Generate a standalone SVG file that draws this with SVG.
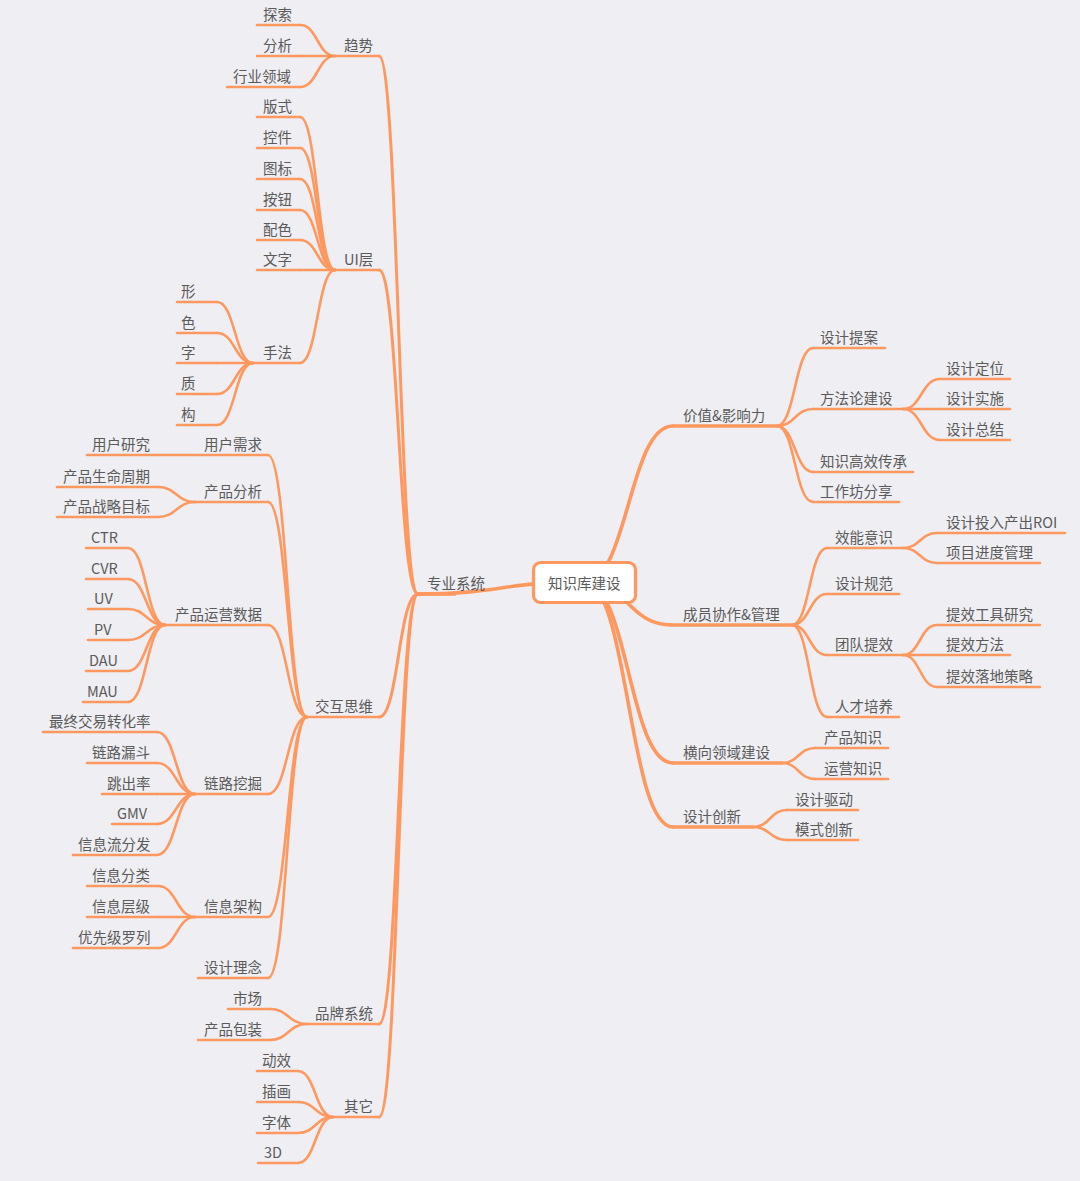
<svg xmlns="http://www.w3.org/2000/svg" width="1080" height="1181" viewBox="0 0 1080 1181">
<style>
text{font-family:"Noto Sans CJK SC","Liberation Sans",sans-serif;font-size:14.5px;fill:#5a5a5a;transform:translateY(1px)}
.c,.u,.u1,.c1,.c2{fill:none;stroke:#ff985f;stroke-linecap:round}
.c1{stroke-width:3.6}
.u1{stroke-width:3.3}
.c2{stroke-width:3}
.c,.u{stroke-width:2.6}
.box{fill:#fff;stroke:#ff985f;stroke-width:3.2}
</style>
<rect width="1080" height="1181" fill="#efeef3"/>
<g id="connectors">
<path class="c1" d="M584 582C501 582 501 594 418 594"/>
<path class="c1" d="M584 582C628.5 582 628.5 426 673 426"/>
<path class="c1" d="M584 582C628 582 628 625 672 625"/>
<path class="c1" d="M584 582C628.5 582 628.5 763 673 763"/>
<path class="c1" d="M584 582C628.5 582 628.5 827 673 827"/>
<path class="c2" d="M418 594C398.5 594 398.5 56 379 56"/>
<path class="c2" d="M418 594C398.5 594 398.5 270 379 270"/>
<path class="c2" d="M418 594C398.5 594 398.5 717 379 717"/>
<path class="c2" d="M418 594C398.5 594 398.5 1024 379 1024"/>
<path class="c2" d="M418 594C398.5 594 398.5 1117 379 1117"/>
<path class="c" d="M335 56C317.5 56 317.5 25 300 25"/>
<path class="c" d="M335 56L300 56"/>
<path class="c" d="M335 56C317.5 56 317.5 87 300 87"/>
<path class="c" d="M335 270C317.5 270 317.5 117 300 117"/>
<path class="c" d="M335 270C317.5 270 317.5 148 300 148"/>
<path class="c" d="M335 270C317.5 270 317.5 179 300 179"/>
<path class="c" d="M335 270C317.5 270 317.5 210 300 210"/>
<path class="c" d="M335 270C317.5 270 317.5 240 300 240"/>
<path class="c" d="M335 270L300 270"/>
<path class="c" d="M335 270C317.5 270 317.5 363 300 363"/>
<path class="c" d="M253 363C235 363 235 302 217 302"/>
<path class="c" d="M253 363C235 363 235 333 217 333"/>
<path class="c" d="M253 363L217 363"/>
<path class="c" d="M253 363C235 363 235 394 217 394"/>
<path class="c" d="M253 363C235 363 235 425 217 425"/>
<path class="c" d="M307 717C287.5 717 287.5 455 268 455"/>
<path class="c" d="M307 717C287.5 717 287.5 502 268 502"/>
<path class="c" d="M307 717C287.5 717 287.5 625 268 625"/>
<path class="c" d="M307 717C287.5 717 287.5 794 268 794"/>
<path class="c" d="M307 717C287.5 717 287.5 917 268 917"/>
<path class="c" d="M307 717C287.5 717 287.5 978 268 978"/>
<path class="c" d="M200 455L157 455"/>
<path class="c" d="M195 502C176.5 502 176.5 487 158 487"/>
<path class="c" d="M195 502C176.5 502 176.5 517 158 517"/>
<path class="c" d="M165 625C146.5 625 146.5 548 128 548"/>
<path class="c" d="M165 625C146.5 625 146.5 579 128 579"/>
<path class="c" d="M165 625C146.5 625 146.5 609 128 609"/>
<path class="c" d="M165 625C146.5 625 146.5 640 128 640"/>
<path class="c" d="M165 625C146.5 625 146.5 671 128 671"/>
<path class="c" d="M165 625C146.5 625 146.5 702 128 702"/>
<path class="c" d="M195 794C176 794 176 732 157 732"/>
<path class="c" d="M195 794C176 794 176 763 157 763"/>
<path class="c" d="M195 794L157 794"/>
<path class="c" d="M195 794C176 794 176 824 157 824"/>
<path class="c" d="M195 794C176 794 176 855 157 855"/>
<path class="c" d="M195 917C176.5 917 176.5 886 158 886"/>
<path class="c" d="M195 917L158 917"/>
<path class="c" d="M195 917C176.5 917 176.5 948 158 948"/>
<path class="c" d="M307 1024C288.5 1024 288.5 1009 270 1009"/>
<path class="c" d="M307 1024C288.5 1024 288.5 1040 270 1040"/>
<path class="c" d="M333 1117C315.5 1117 315.5 1071 298 1071"/>
<path class="c" d="M333 1117C315.5 1117 315.5 1102 298 1102"/>
<path class="c" d="M333 1117C315.5 1117 315.5 1133 298 1133"/>
<path class="c" d="M333 1117C315.5 1117 315.5 1163 298 1163"/>
<path class="c" d="M777 426C795 426 795 348 813 348"/>
<path class="c" d="M777 426C795 426 795 409 813 409"/>
<path class="c" d="M777 426C795 426 795 472 813 472"/>
<path class="c" d="M777 426C795 426 795 502 813 502"/>
<path class="c" d="M903 409C921.5 409 921.5 379 940 379"/>
<path class="c" d="M903 409L940 409"/>
<path class="c" d="M903 409C921.5 409 921.5 440 940 440"/>
<path class="c" d="M792 625C809.5 625 809.5 548 827 548"/>
<path class="c" d="M792 625C809.5 625 809.5 594 827 594"/>
<path class="c" d="M792 625C809.5 625 809.5 655 827 655"/>
<path class="c" d="M792 625C809.5 625 809.5 717 827 717"/>
<path class="c" d="M903 548C920 548 920 533 937 533"/>
<path class="c" d="M903 548C920 548 920 563 937 563"/>
<path class="c" d="M903 655C920 655 920 625 937 625"/>
<path class="c" d="M903 655L937 655"/>
<path class="c" d="M903 655C920 655 920 687 937 687"/>
<path class="c" d="M782 763C798.5 763 798.5 748 815 748"/>
<path class="c" d="M782 763C798.5 763 798.5 779 815 779"/>
<path class="c" d="M753 827C770 827 770 810 787 810"/>
<path class="c" d="M753 827C770 827 770 840 787 840"/>
</g>
<g id="center"><rect class="box" x="533.5" y="562.5" width="102" height="40" rx="7"/><text x="548" y="588">知识库建设</text></g>
<g id="n-zhuanye"><path class="u1" d="M418 594H455"/><text x="427" y="588">专业系统</text></g>
<g id="n-qushi"><path class="u" d="M335 56H379"/><text x="344" y="50">趋势</text></g>
<g id="n-tansuo"><path class="u" d="M257 25H300"/><text x="263" y="19">探索</text></g>
<g id="n-fenxi"><path class="u" d="M257 56H300"/><text x="263" y="50">分析</text></g>
<g id="n-hangye"><path class="u" d="M227 87H300"/><text x="233" y="81">行业领域</text></g>
<g id="n-ui"><path class="u" d="M335 270H379"/><text x="344" y="264">UI层</text></g>
<g id="n-banshi"><path class="u" d="M257 117H300"/><text x="263" y="111">版式</text></g>
<g id="n-kongjian"><path class="u" d="M257 148H300"/><text x="263" y="142">控件</text></g>
<g id="n-tubiao"><path class="u" d="M257 179H300"/><text x="263" y="173">图标</text></g>
<g id="n-anniu"><path class="u" d="M257 210H300"/><text x="263" y="204">按钮</text></g>
<g id="n-peise"><path class="u" d="M257 240H300"/><text x="263" y="234">配色</text></g>
<g id="n-wenzi"><path class="u" d="M257 270H300"/><text x="263" y="264">文字</text></g>
<g id="n-shoufa"><path class="u" d="M253 363H300"/><text x="263" y="357">手法</text></g>
<g id="n-xing"><path class="u" d="M177 302H217"/><text x="181" y="296">形</text></g>
<g id="n-se"><path class="u" d="M177 333H217"/><text x="181" y="327">色</text></g>
<g id="n-zi"><path class="u" d="M177 363H217"/><text x="181" y="357">字</text></g>
<g id="n-zhi"><path class="u" d="M177 394H217"/><text x="181" y="388">质</text></g>
<g id="n-gou"><path class="u" d="M177 425H217"/><text x="181" y="419">构</text></g>
<g id="n-jiaohu"><path class="u" d="M307 717H379"/><text x="315" y="711">交互思维</text></g>
<g id="n-yonghuxuqiu"><path class="u" d="M200 455H268"/><text x="204" y="449">用户需求</text></g>
<g id="n-yonghuyanjiu"><path class="u" d="M87 455H157"/><text x="92" y="449">用户研究</text></g>
<g id="n-chanpinfenxi"><path class="u" d="M195 502H268"/><text x="204" y="496">产品分析</text></g>
<g id="n-shengming"><path class="u" d="M57 487H158"/><text x="63" y="481">产品生命周期</text></g>
<g id="n-zhanlue"><path class="u" d="M57 517H158"/><text x="63" y="511">产品战略目标</text></g>
<g id="n-yunying"><path class="u" d="M165 625H268"/><text x="175" y="619">产品运营数据</text></g>
<g id="n-ctr"><path class="u" d="M86 548H128"/><text x="91" y="542">CTR</text></g>
<g id="n-cvr"><path class="u" d="M86 579H128"/><text x="91" y="573">CVR</text></g>
<g id="n-uv"><path class="u" d="M88 609H128"/><text x="94" y="603">UV</text></g>
<g id="n-pv"><path class="u" d="M88 640H128"/><text x="94" y="634">PV</text></g>
<g id="n-dau"><path class="u" d="M86 671H128"/><text x="89" y="665">DAU</text></g>
<g id="n-mau"><path class="u" d="M83 702H128"/><text x="87" y="696">MAU</text></g>
<g id="n-lianlu"><path class="u" d="M195 794H268"/><text x="204" y="788">链路挖掘</text></g>
<g id="n-zuizhong"><path class="u" d="M43 732H157"/><text x="49" y="726">最终交易转化率</text></g>
<g id="n-loudou"><path class="u" d="M87 763H157"/><text x="92" y="757">链路漏斗</text></g>
<g id="n-tiaochu"><path class="u" d="M102 794H157"/><text x="107" y="788">跳出率</text></g>
<g id="n-gmv"><path class="u" d="M112 824H157"/><text x="117" y="818">GMV</text></g>
<g id="n-xinxiliu"><path class="u" d="M73 855H157"/><text x="78" y="849">信息流分发</text></g>
<g id="n-jiagou"><path class="u" d="M195 917H268"/><text x="204" y="911">信息架构</text></g>
<g id="n-fenlei"><path class="u" d="M87 886H158"/><text x="92" y="880">信息分类</text></g>
<g id="n-cengji"><path class="u" d="M87 917H158"/><text x="92" y="911">信息层级</text></g>
<g id="n-youxian"><path class="u" d="M73 948H158"/><text x="78" y="942">优先级罗列</text></g>
<g id="n-linian"><path class="u" d="M198 978H268"/><text x="204" y="972">设计理念</text></g>
<g id="n-pinpai"><path class="u" d="M307 1024H379"/><text x="315" y="1018">品牌系统</text></g>
<g id="n-shichang"><path class="u" d="M228 1009H270"/><text x="233" y="1003">市场</text></g>
<g id="n-baozhuang"><path class="u" d="M198 1040H270"/><text x="204" y="1034">产品包装</text></g>
<g id="n-qita"><path class="u" d="M333 1117H379"/><text x="344" y="1111">其它</text></g>
<g id="n-dongxiao"><path class="u" d="M257 1071H298"/><text x="262" y="1065">动效</text></g>
<g id="n-chahua"><path class="u" d="M257 1102H298"/><text x="262" y="1096">插画</text></g>
<g id="n-ziti"><path class="u" d="M257 1133H298"/><text x="262" y="1127">字体</text></g>
<g id="n-3d"><path class="u" d="M258 1163H298"/><text x="264" y="1157">3D</text></g>
<g id="n-jiazhi"><path class="u1" d="M673 426H777"/><text x="683" y="420">价值&amp;影响力</text></g>
<g id="n-tian"><path class="u" d="M813 348H885"/><text x="820" y="342">设计提案</text></g>
<g id="n-fangfalun"><path class="u" d="M813 409H903"/><text x="820" y="403">方法论建设</text></g>
<g id="n-dingwei"><path class="u" d="M940 379H1010"/><text x="946" y="373">设计定位</text></g>
<g id="n-shishi"><path class="u" d="M940 409H1010"/><text x="946" y="403">设计实施</text></g>
<g id="n-zongjie"><path class="u" d="M940 440H1010"/><text x="946" y="434">设计总结</text></g>
<g id="n-chuancheng"><path class="u" d="M813 472H913"/><text x="820" y="466">知识高效传承</text></g>
<g id="n-gongzuofang"><path class="u" d="M813 502H899"/><text x="820" y="496">工作坊分享</text></g>
<g id="n-chengyuan"><path class="u1" d="M672 625H792"/><text x="683" y="619">成员协作&amp;管理</text></g>
<g id="n-xiaoneng"><path class="u" d="M827 548H903"/><text x="835" y="542">效能意识</text></g>
<g id="n-roi"><path class="u" d="M937 533H1065"/><text x="946" y="527">设计投入产出ROI</text></g>
<g id="n-jindu"><path class="u" d="M937 563H1040"/><text x="946" y="557">项目进度管理</text></g>
<g id="n-guifan"><path class="u" d="M827 594H899"/><text x="835" y="588">设计规范</text></g>
<g id="n-tuandui"><path class="u" d="M827 655H903"/><text x="835" y="649">团队提效</text></g>
<g id="n-gongju"><path class="u" d="M937 625H1040"/><text x="946" y="619">提效工具研究</text></g>
<g id="n-fangfa"><path class="u" d="M937 655H1010"/><text x="946" y="649">提效方法</text></g>
<g id="n-luodi"><path class="u" d="M937 687H1040"/><text x="946" y="681">提效落地策略</text></g>
<g id="n-rencai"><path class="u" d="M827 717H899"/><text x="835" y="711">人才培养</text></g>
<g id="n-hengxiang"><path class="u1" d="M673 763H782"/><text x="683" y="757">横向领域建设</text></g>
<g id="n-chanpinzhishi"><path class="u" d="M815 748H888"/><text x="824" y="742">产品知识</text></g>
<g id="n-yunyingzhishi"><path class="u" d="M815 779H888"/><text x="824" y="773">运营知识</text></g>
<g id="n-chuangxin"><path class="u1" d="M673 827H753"/><text x="683" y="821">设计创新</text></g>
<g id="n-qudong"><path class="u" d="M787 810H858"/><text x="795" y="804">设计驱动</text></g>
<g id="n-moshi"><path class="u" d="M787 840H858"/><text x="795" y="834">模式创新</text></g>
</svg>
